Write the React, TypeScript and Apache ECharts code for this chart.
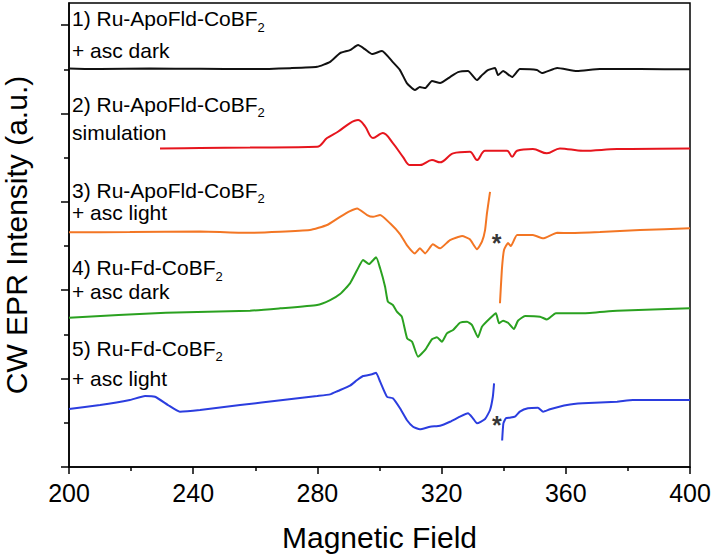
import React, { useEffect, useRef } from 'react';
import * as echarts from 'echarts';

type Pt = [number, number | '-'];

// Magnetic field axis
const fieldMin = 200;
const fieldMax = 400;
const fieldStep = 40;

// Intensity axis (arbitrary units, unlabelled)
const intensityMin = 0;
const intensityMax = 5.25;
const majorTickValues = [0, 1, 2, 3, 4, 5];
const minorTickValues = [0.5, 1.5, 2.5, 3.5, 4.5];

// 1) Ru-ApoFld-CoBF2 + asc dark
const apoDark: Pt[] = [
  [200, 4.508], [210, 4.502], [226.1, 4.508], [242.2, 4.506], [258.3, 4.502], [271.2, 4.513],
  [279.9, 4.528], [284.1, 4.585], [287.3, 4.683], [290.5, 4.717], [293.1, 4.774], [295.3, 4.728],
  [297.6, 4.672], [300.8, 4.706], [304.3, 4.581], [306.6, 4.491], [308.8, 4.344], [311.4, 4.265],
  [313.0, 4.299], [314.7, 4.287], [316.9, 4.367], [319.5, 4.344], [322.7, 4.412], [325.3, 4.468],
  [328.5, 4.48], [331.4, 4.378], [333.0, 4.434], [334.9, 4.491], [337.2, 4.514], [338.2, 4.434],
  [339.8, 4.48], [342.7, 4.412], [345.2, 4.502], [350.7, 4.491], [352.3, 4.457], [357.2, 4.514],
  [363.6, 4.48], [371.0, 4.502], [383.9, 4.502], [400, 4.499],
];

// 2) Ru-ApoFld-CoBF2 simulation
const apoSim: Pt[] = [
  [229.3, 3.605], [242.2, 3.609], [258.3, 3.614], [279.9, 3.623], [283.1, 3.722], [286.6, 3.793],
  [290.5, 3.891], [293.1, 3.925], [295.3, 3.857], [297.9, 3.722], [301.1, 3.778], [304.3, 3.665],
  [307.6, 3.507], [309.8, 3.416], [313.0, 3.416], [316.9, 3.473], [319.5, 3.447], [323.7, 3.549],
  [329.1, 3.567], [331.4, 3.473], [334.0, 3.578], [341.1, 3.578], [342.7, 3.51], [344.3, 3.578],
  [349.4, 3.597], [353.9, 3.549], [358.1, 3.605], [365.5, 3.578], [376.5, 3.597], [400, 3.605],
];

// 3) Ru-ApoFld-CoBF2 + asc light
const apoLight: Pt[] = [
  [200, 2.655], [219.6, 2.658], [242.2, 2.664], [258.3, 2.65], [277.6, 2.681], [283.1, 2.738],
  [287.3, 2.831], [290.5, 2.896], [292.8, 2.926], [296.0, 2.851], [297.9, 2.831], [300.2, 2.851],
  [303.4, 2.757], [306.6, 2.636], [308.8, 2.511], [311.4, 2.417], [313.0, 2.474], [314.7, 2.417],
  [317.2, 2.519], [319.5, 2.474], [322.7, 2.568], [326.6, 2.613], [329.1, 2.576], [331.4, 2.463],
  [333.0, 2.549], [334.0, 2.681], [334.6, 2.87], [335.6, 3.114], [337.5, '-'],
  [338.8, 1.852], [339.4, 2.228], [340.1, 2.455], [341.4, 2.534], [342.3, 2.5], [344.3, 2.624],
  [349.4, 2.624], [352.7, 2.587], [357.2, 2.65], [361.4, 2.647], [371.0, 2.658], [383.9, 2.681],
  [400, 2.7],
];

// 4) Ru-Fd-CoBF2 + asc dark
const fdDark: Pt[] = [
  [200, 1.689], [231.2, 1.745], [258.3, 1.768], [268.0, 1.795], [279.9, 1.833], [284.1, 1.889],
  [287.3, 1.957], [290.5, 2.078], [292.8, 2.228], [294.7, 2.342], [296.6, 2.296], [298.9, 2.372],
  [300.2, 2.248], [301.8, 2.04], [302.7, 1.87], [304.3, 1.833], [305.6, 1.757], [307.2, 1.7],
  [308.9, 1.456], [310.5, 1.417], [312.4, 1.248], [314.7, 1.324], [316.9, 1.445], [318.5, 1.467],
  [320.1, 1.417], [321.7, 1.512], [323.7, 1.55], [325.9, 1.632], [328.2, 1.644], [329.8, 1.606],
  [331.7, 1.467], [333.0, 1.587], [335.6, 1.682], [337.5, 1.739], [338.5, 1.626], [339.8, 1.655],
  [341.4, 1.632], [343.3, 1.561], [344.6, 1.655], [346.9, 1.708], [351.7, 1.7], [353.9, 1.669],
  [356.8, 1.739], [365.5, 1.739], [376.5, 1.768], [400, 1.795],
];

// 5) Ru-Fd-CoBF2 + asc light
const fdLight: Pt[] = [
  [200, 0.656], [210, 0.701], [219.6, 0.758], [224.5, 0.803], [227.7, 0.795], [231.9, 0.701],
  [235.7, 0.626], [242.2, 0.645], [255.1, 0.701], [268.9, 0.758], [279.9, 0.803], [284.1, 0.822],
  [286.6, 0.86], [290.5, 0.92], [292.8, 0.984], [294.7, 1.029], [297.6, 1.049], [298.9, 1.067],
  [300.2, 0.965], [302.4, 0.795], [304.3, 0.777], [306.6, 0.664], [308.8, 0.532], [310.8, 0.456],
  [313.0, 0.426], [316.3, 0.456], [319.5, 0.467], [322.7, 0.512], [325.9, 0.569], [328.5, 0.607],
  [330.1, 0.551], [331.4, 0.494], [334.0, 0.543], [335.6, 0.645], [336.5, 0.795], [336.9, 0.947],
  [338.2, '-'],
  [339.5, 0.3], [339.9, 0.494], [340.7, 0.551], [342.0, 0.558], [343.6, 0.569], [345.2, 0.626],
  [347.8, 0.664], [351.0, 0.671], [352.7, 0.626], [354.9, 0.653], [360.4, 0.701], [365.5, 0.72],
  [376.5, 0.739], [381.6, 0.758], [400, 0.758],
];

// Asterisk markers (artefact signal)
const asteriskPoints: [number, number][] = [
  [337.7, 2.6],
  [337.8, 0.54],
];

const seriesNames = [
  '1) Ru-ApoFld-CoBF2 + asc dark',
  '2) Ru-ApoFld-CoBF2 simulation',
  '3) Ru-ApoFld-CoBF2 + asc light',
  '4) Ru-Fd-CoBF2 + asc dark',
  '5) Ru-Fd-CoBF2 + asc light',
];

// Label texts: [first line (before subscript), subscript, second line]
const labelFirst = ['1) Ru-ApoFld-CoBF', '2) Ru-ApoFld-CoBF', '3) Ru-ApoFld-CoBF', '4) Ru-Fd-CoBF', '5) Ru-Fd-CoBF'];
const labelSub = '2';
const labelSecond = ['+ asc dark', 'simulation', '+ asc light', '+ asc dark', '+ asc light'];

// layout (pixels)
const labelX = 72;
const labelY1 = [18.5, 104, 190, 267.5, 348];
const labelY2 = [50.5, 132, 212, 291, 378];

const FONT = '"Liberation Sans", Arial, Helvetica, sans-serif';
const colors = ['#111111', '#e6151d', '#f37624', '#2aa120', '#2b3ddf'];

export default function App() {
  const ref = useRef<HTMLDivElement>(null);

  useEffect(() => {
    if (!ref.current) return;
    const chart = echarts.init(ref.current, null, { renderer: 'svg' });

    const traces = [apoDark, apoSim, apoLight, fdDark, fdLight];

    const graphics: any[] = [];
    for (let i = 0; i < labelFirst.length; i++) {
      graphics.push({
        type: 'text',
        x: labelX,
        y: labelY1[i],
        style: {
          text: `{m|${labelFirst[i]}}{s|${labelSub}}`,
          fill: '#000',
          verticalAlign: 'middle',
          align: 'left',
          rich: {
            m: { fontSize: 21, fontFamily: FONT, lineHeight: 30, fill: '#000', color: '#000' },
            s: { fontSize: 13, fontFamily: FONT, lineHeight: 13, verticalAlign: 'bottom', fill: '#000', color: '#000' },
          },
        },
      });
      graphics.push({
        type: 'text',
        x: labelX,
        y: labelY2[i],
        style: {
          text: labelSecond[i],
          fontSize: 21,
          fontFamily: FONT,
          fill: '#000',
          verticalAlign: 'middle',
          align: 'left',
        },
      });
    }

    chart.setOption({
      animation: false,
      backgroundColor: '#ffffff',
      grid: {
        left: 69,
        right: 23,
        top: 3,
        bottom: 90,
        show: true,
        borderColor: '#000',
        borderWidth: 1.5,
        containLabel: false,
        outerBoundsMode: 'none',
      },
      xAxis: {
        type: 'value',
        min: fieldMin,
        max: fieldMax,
        interval: fieldStep,
        name: 'Magnetic Field',
        nameLocation: 'middle',
        nameGap: 55,
        nameTextStyle: { fontSize: 30, fontFamily: FONT, color: '#000' },
        axisLine: { show: true, lineStyle: { color: '#000', width: 1.5 } },
        axisTick: { show: true, length: 7, lineStyle: { color: '#000', width: 1.5 } },
        minorTick: { show: true, splitNumber: 2, length: 4, lineStyle: { color: '#000', width: 1.5 } },
        axisLabel: { fontSize: 25, fontFamily: FONT, color: '#000', margin: 13 },
        splitLine: { show: false },
        minorSplitLine: { show: false },
      },
      yAxis: [
        {
          type: 'value',
          min: intensityMin,
          max: intensityMax,
          position: 'left',
          name: 'CW EPR Intensity (a.u.)',
          nameLocation: 'middle',
          nameGap: 38,
          nameTextStyle: { fontSize: 30, fontFamily: FONT, color: '#000' },
          axisLine: { show: true, lineStyle: { color: '#000', width: 1.5 } },
          axisTick: { show: true, customValues: majorTickValues, length: 8, lineStyle: { color: '#000', width: 1.5 } },
          axisLabel: { show: false },
          splitLine: { show: false },
        },
        {
          type: 'value',
          min: intensityMin,
          max: intensityMax,
          position: 'left',
          axisLine: { show: false },
          axisTick: { show: true, customValues: minorTickValues, length: 5, lineStyle: { color: '#000', width: 1.5 } },
          axisLabel: { show: false },
          splitLine: { show: false },
        },
      ],
      series: [
        ...traces.map((data, i) => ({
          name: seriesNames[i],
          type: 'line',
          data,
          yAxisIndex: 0,
          showSymbol: false,
          symbol: 'none',
          smooth: i === 1 ? 0.35 : 0.15,
          connectNulls: false,
          lineStyle: { color: colors[i], width: 2 },
          itemStyle: { color: colors[i] },
          z: 3,
        })),
        {
          name: 'artefact',
          type: 'scatter',
          data: asteriskPoints,
          yAxisIndex: 0,
          symbolSize: 1,
          itemStyle: { color: 'rgba(0,0,0,0)' },
          label: {
            show: true,
            position: 'inside',
            formatter: '*',
            fontSize: 25,
            fontWeight: 'bold',
            fontFamily: FONT,
            color: '#000',
            offset: [0, 6],
          },
          z: 4,
        },
      ],
      graphic: graphics,
    });

    return () => chart.dispose();
  }, []);

  return <div ref={ref} style={{ position: 'fixed', left: 0, top: 0, width: 713, height: 557 }} />;
}
